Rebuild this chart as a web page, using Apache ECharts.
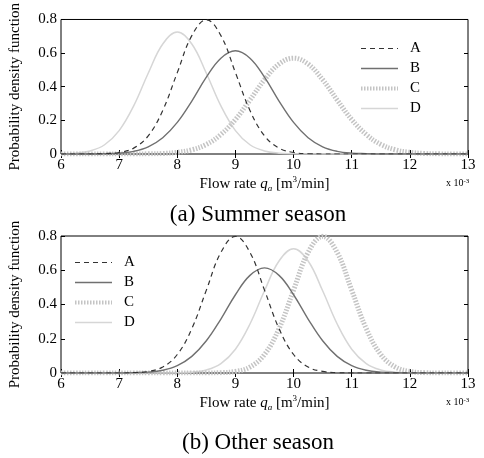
<!DOCTYPE html>
<html>
<head>
<meta charset="utf-8">
<script src="https://cdn.jsdelivr.net/npm/echarts@6/dist/echarts.min.js"></script>
<style>
  html, body { margin: 0; padding: 0; background: #fff; }
  #chart { width: 484px; height: 458px; }
</style>
</head>
<body>
<div id="chart"></div>
<script>
// flow rate (x 10^-3 m3/min), one point every 0.25
const flow = [6, 6.25, 6.5, 6.75, 7, 7.25, 7.5, 7.75, 8, 8.25, 8.5, 8.75, 9, 9.25, 9.5, 9.75,
  10, 10.25, 10.5, 10.75, 11, 11.25, 11.5, 11.75, 12, 12.25, 12.5, 12.75, 13]
const names = ['A', 'B', 'C', 'D']
const xTicks = [6, 7, 8, 9, 10, 11, 12, 13]
const yTicks = [0, 0.2, 0.4, 0.6, 0.8]

// (a) Summer season
const summerA = [0, 0, 0, 0.002, 0.009, 0.035, 0.108, 0.259, 0.484, 0.704, 0.798, 0.704, 0.484, 0.259, 0.108, 0.035,
  0.009, 0.002, 0, 0, 0, 0, 0, 0, 0, 0, 0, 0, 0]
const summerB = [0, 0, 0, 0.002, 0.005, 0.016, 0.043, 0.097, 0.188, 0.315, 0.457, 0.57, 0.614, 0.57, 0.457, 0.315,
  0.188, 0.097, 0.043, 0.016, 0.005, 0.002, 0, 0, 0, 0, 0, 0, 0]
const summerC = [0, 0, 0, 0, 0, 0, 0.001, 0.003, 0.01, 0.025, 0.057, 0.116, 0.205, 0.321, 0.442, 0.535,
  0.57, 0.535, 0.442, 0.321, 0.205, 0.116, 0.057, 0.025, 0.01, 0.003, 0.001, 0, 0]
const summerD = [0.001, 0.005, 0.018, 0.055, 0.139, 0.286, 0.48, 0.654, 0.725, 0.654, 0.48, 0.286, 0.139, 0.055, 0.018, 0.005,
  0.001, 0, 0, 0, 0, 0, 0, 0, 0, 0, 0, 0, 0]

// (b) Other season
const otherA = [0, 0, 0, 0, 0, 0.002, 0.009, 0.035, 0.108, 0.259, 0.484, 0.704, 0.798, 0.704, 0.484, 0.259,
  0.108, 0.035, 0.009, 0.002, 0, 0, 0, 0, 0, 0, 0, 0, 0]
const otherB = [0, 0, 0, 0, 0, 0.002, 0.005, 0.016, 0.043, 0.097, 0.188, 0.315, 0.457, 0.57, 0.614, 0.57,
  0.457, 0.315, 0.188, 0.097, 0.043, 0.016, 0.005, 0.002, 0, 0, 0, 0, 0]
const otherC = [0, 0, 0, 0, 0, 0, 0, 0, 0, 0, 0, 0.002, 0.009, 0.035, 0.108, 0.259,
  0.484, 0.704, 0.798, 0.704, 0.484, 0.259, 0.108, 0.035, 0.009, 0.002, 0, 0, 0]
const otherD = [0, 0, 0, 0, 0, 0, 0, 0, 0.001, 0.005, 0.018, 0.055, 0.139, 0.286, 0.48, 0.654,
  0.725, 0.654, 0.48, 0.286, 0.139, 0.055, 0.018, 0.005, 0.001, 0, 0, 0, 0]

const serif = 'Liberation Serif'
const styles = {
  A: { color: '#333', width: 1.2, type: [5, 4] },
  B: { color: '#707070', width: 1.4, type: 'solid' },
  C: { color: '#c4c4c4', width: 5, type: [1.5, 1.5] },
  D: { color: '#d6d6d6', width: 1.5, type: 'solid' }
}

function pairs(vals) {
  return flow.map((x, i) => [x, vals[i]])
}

function makeSeries(name, vals, idx) {
  const s = styles[name]
  return {
    name: name,
    type: 'line',
    xAxisIndex: idx * 2,
    yAxisIndex: idx * 2,
    smooth: 0.4,
    symbol: 'none',
    animation: false,
    lineStyle: { color: s.color, width: s.width, type: s.type },
    itemStyle: { color: s.color },
    data: pairs(vals)
  }
}

const flowName = 'Flow rate {q|q}{sub|a} [m{sup|3}/min]'
const flowRich = {
  q: { fontFamily: serif, fontSize: 15, fontStyle: 'italic', color: '#000', lineHeight: 18 },
  sub: { fontFamily: serif, fontSize: 9, fontStyle: 'italic', color: '#000', verticalAlign: 'bottom', lineHeight: 14 },
  sup: { fontFamily: serif, fontSize: 9, color: '#000', verticalAlign: 'top', lineHeight: 14 }
}

function xAxes(grid) {
  return [
    {
      gridIndex: grid, type: 'value', min: xTicks[0], max: xTicks[xTicks.length - 1], interval: 1,
      name: flowName, nameLocation: 'middle', nameGap: 21,
      nameTextStyle: { fontFamily: serif, fontSize: 15, color: '#000', lineHeight: 18, rich: flowRich },
      axisLine: { show: false },
      axisTick: { inside: true, length: 4, lineStyle: { color: '#000' } },
      axisLabel: { fontFamily: serif, fontSize: 15, color: '#000', margin: 4 },
      splitLine: { show: false }
    },
    {
      gridIndex: grid, type: 'value', position: 'top', min: xTicks[0], max: xTicks[xTicks.length - 1], interval: 1,
      axisLine: { show: false },
      axisTick: { inside: true, length: 4, lineStyle: { color: '#000' } },
      axisLabel: { show: false },
      splitLine: { show: false }
    }
  ]
}

function yAxes(grid) {
  return [
    {
      gridIndex: grid, type: 'value', min: yTicks[0], max: yTicks[yTicks.length - 1], interval: 0.2,
      name: 'Probability density function', nameLocation: 'middle', nameGap: 38,
      nameTextStyle: { fontFamily: serif, fontSize: 15, color: '#000' },
      axisLine: { show: false },
      axisTick: { inside: true, length: 4, lineStyle: { color: '#000' } },
      axisLabel: {
        fontFamily: serif, fontSize: 15, color: '#000', margin: 4,
        formatter: v => (v === 0 ? '0' : v.toFixed(1))
      },
      splitLine: { show: false }
    },
    {
      gridIndex: grid, type: 'value', position: 'right', min: yTicks[0], max: yTicks[yTicks.length - 1], interval: 0.2,
      axisLine: { show: false },
      axisTick: { inside: true, length: 4, lineStyle: { color: '#000' } },
      axisLabel: { show: false },
      splitLine: { show: false }
    }
  ]
}

function legend(left, top) {
  return {
    orient: 'vertical', left: left, top: top, padding: 0,
    itemWidth: 37, itemHeight: 14, itemGap: 5,
    itemStyle: { opacity: 0 },
    textStyle: { fontFamily: serif, fontSize: 15, lineHeight: 14, color: '#000', padding: [0, 0, 0, 7] },
    data: names.map(n => ({
      name: n,
      lineStyle: { width: n === 'C' ? 4 : styles[n].width, type: styles[n].type, color: styles[n].color }
    }))
  }
}

const chart = echarts.init(document.getElementById('chart'), null, { renderer: 'canvas' })
chart.setOption({
  backgroundColor: '#fff',
  animation: false,
  title: [
    { text: '(a) Summer season', left: 253, top: 198, textAlign: 'center',
      textStyle: { fontFamily: serif, fontSize: 23, fontWeight: 'normal', color: '#000' } },
    { text: '(b) Other season', left: 253, top: 426, textAlign: 'center',
      textStyle: { fontFamily: serif, fontSize: 23, fontWeight: 'normal', color: '#000' } }
  ],
  legend: [legend(359, 41), legend(73, 255)],
  grid: [
    { left: 53, right: 16, top: 17, height: 137, show: true, borderColor: '#000', borderWidth: 1, backgroundColor: 'transparent' },
    { left: 49, right: 16, top: 236, height: 137, show: true, borderColor: '#000', borderWidth: 1, backgroundColor: 'transparent' }
  ],
  xAxis: xAxes(0).concat(xAxes(1)),
  yAxis: yAxes(0).concat(yAxes(1)),
  graphic: [
    { type: 'text', left: 446, top: 178,
      style: { text: 'x 10{s|-3}', fontFamily: serif, fontSize: 10, fill: '#000',
        rich: { s: { fontFamily: serif, fontSize: 7, verticalAlign: 'top', lineHeight: 10 } } } },
    { type: 'text', left: 446, top: 397,
      style: { text: 'x 10{s|-3}', fontFamily: serif, fontSize: 10, fill: '#000',
        rich: { s: { fontFamily: serif, fontSize: 7, verticalAlign: 'top', lineHeight: 10 } } } }
  ],
  series: [
    makeSeries('D', summerD, 0),
    makeSeries('C', summerC, 0),
    makeSeries('B', summerB, 0),
    makeSeries('A', summerA, 0),
    makeSeries('D', otherD, 1),
    makeSeries('C', otherC, 1),
    makeSeries('B', otherB, 1),
    makeSeries('A', otherA, 1)
  ]
})
</script>
</body>
</html>
